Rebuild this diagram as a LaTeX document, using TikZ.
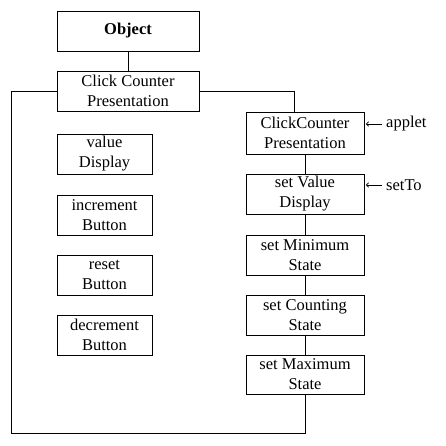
\documentclass[tikz,border=0pt]{standalone}
\usepackage{fontspec}
\setmainfont{Liberation Serif}
\usetikzlibrary{arrows.meta,calc}
\begin{document}
\begin{tikzpicture}[x=1pt,y=1pt,
  txt/.style={font=\fontsize{16.5}{20}\selectfont},
  box/.style={draw,line width=0.9pt,rectangle,inner sep=0pt,align=center,txt},
  wide/.style={box,minimum width=142pt,minimum height=40pt},
  lbox/.style={box,minimum width=95pt,minimum height=40pt},
  rbox/.style={box,minimum width=118pt,minimum height=40pt},
  conn/.style={line width=0.9pt},
  tag/.style={txt,inner sep=0pt,anchor=west},
  ptr/.style={line width=0.7pt,-{To[length=3pt,width=5pt]}}]
\useasboundingbox (0,0) rectangle (446,-445);
\node[wide,font=\bfseries\fontsize{16.5}{20}\selectfont] (obj) at (128,-31) {Object};
\node[wide] (ccp) at (128,-91) {Click Counter\\Presentation};
\node[lbox] (val) at (104.5,-154) {value\\Display};
\node[lbox] (inc) at (104.5,-215) {increment\\Button};
\node[lbox] (res) at (104.5,-275) {reset\\Button};
\node[lbox] (dec) at (104.5,-335) {decrement\\Button};
\node[rbox,minimum height=42pt] (ccp2) at (305,-133) {ClickCounter\\Presentation};
\node[rbox] (sval) at (305,-194) {set Value\\Display};
\node[rbox] (smin) at (305,-255) {set Minimum\\State};
\node[rbox] (scnt) at (305,-315) {set Counting\\State};
\node[rbox,minimum height=39pt] (smax) at (305,-374.5) {set Maximum\\State};
\node[tag] (applet) at (386,-124) {applet};
\node[tag] (setto) at (386,-185) {setTo};
\coordinate (corner) at (11,-433);
\draw[conn] (obj.south) -- (ccp.north);
\draw[conn] (ccp.west) -| (corner) -| (smax.south);
\draw[conn] (ccp.east) -| ([xshift=-11pt]ccp2.north);
\draw[conn] (ccp2.south) -- (sval.north);
\draw[conn] (sval.south) -- (smin.north);
\draw[conn] (smin.south) -- (scnt.north);
\draw[conn] (scnt.south) -- (smax.north);
\draw[ptr] ([xshift=-4pt]applet.west) -- ([xshift=1.5pt]applet.west -| ccp2.east);
\draw[ptr] ([xshift=-4pt]setto.west) -- ([xshift=1.5pt]setto.west -| sval.east);
\end{tikzpicture}
\end{document}
